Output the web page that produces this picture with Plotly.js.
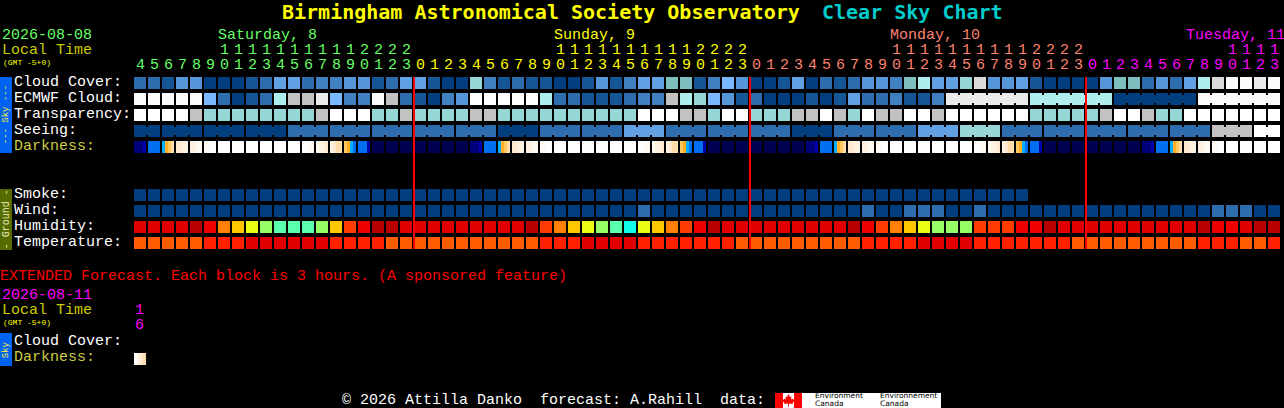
<!DOCTYPE html>
<html>
<head>
<meta charset="utf-8">
<script src="https://cdn.plot.ly/plotly-3.0.1.min.js"></script>
<style>
  html, body { margin: 0; padding: 0; background: #000; }
  #chart { width: 1284px; height: 408px; }
</style>
</head>
<body>
<div id="chart"></div>
<script>
// hours along the top, one per block
const hours = [4,5,6,7,8,9,10,11,12,13,14,15,16,17,18,19,20,21,22,23,
  0,1,2,3,4,5,6,7,8,9,10,11,12,13,14,15,16,17,18,19,20,21,22,23,
  0,1,2,3,4,5,6,7,8,9,10,11,12,13,14,15,16,17,18,19,20,21,22,23,
  0,1,2,3,4,5,6,7,8,9,10,11,12,13];
const midnights = [20, 44, 68];

// colour tables, the row values below index into them
const skyColors = ["#003e7e","#155796","#2d6cad","#4080c0","#5596d8","#62a0e4","#7ab8ff",
  "#7dbebe","#97d6d6","#aeeeee","#c2c2c2","#dadada","#eaeaea","#fbfbfb","#ffffff"];
const humidityColors = ["#b80000","#e00000","#ee0000","#ff3c00","#ff8000","#ffc800",
  "#e9ff14","#99ff66","#5cffb0","#0fffeb"];
const tempColors = ["#ff5c00","#ff2000","#e00000"];
const darkColors = ["#000050","#00007c","#0000b0","#0050e0","#0070f0","#00b0ff","#ffb020",
  "#ffc860","#ffddaa","#ffe9cf","#fff2e3","#fffaf3","#ffffff"];

const cloudCover = [2,2,1,4,4,0,0,0,1,2,
  5,5,2,3,3,4,4,1,2,5,
  5,1,0,0,8,3,1,2,1,1,
  0,0,1,4,1,3,5,5,7,7,
  1,3,6,4,0,0,1,5,0,2,
  1,2,4,4,3,7,9,5,5,8,
  11,4,4,5,1,0,0,0,0,4,
  7,7,2,4,2,5,9,11,13,13,
  12,13];
const ecmwfCloud = [13,13,13,13,13,6,2,0,1,2,
  9,10,10,12,6,3,3,13,10,2,
  1,0,3,4,14,14,14,14,14,9,
  2,2,1,1,1,2,3,3,10,9,
  8,6,4,1,2,0,0,0,1,0,
  1,5,2,2,3,1,1,3,12,12,
  12,12,12,12,9,9,9,9,9,9,
  0,0,0,0,0,0,13,13,13,13,
  13,13];
const transparency = [14,14,14,14,10,8,8,8,8,8,
  8,8,8,10,14,14,14,8,8,10,
  8,8,8,8,10,10,8,8,8,8,
  8,8,8,8,8,8,14,14,14,10,
  10,8,14,14,8,8,8,10,10,14,
  10,8,14,10,10,14,14,10,14,14,
  14,14,14,14,8,8,8,8,8,10,
  14,14,10,8,8,14,14,14,14,14,
  14,14];
const seeing = [0,0,0,0,0,0,0,0,0,0,
  0,2,2,2,2,2,2,2,2,2,
  2,2,2,2,2,2,0,0,0,2,
  2,2,2,2,2,5,5,5,2,2,
  2,2,2,2,2,2,2,0,0,0,
  2,2,2,2,2,2,5,5,5,8,
  8,8,2,2,2,2,2,2,2,2,
  2,2,2,2,2,2,2,10,10,10,
  14,14];
const smoke = [0,0,0,0,0,0,0,0,0,0,
  0,0,0,0,0,0,0,0,0,0,
  0,0,0,0,0,0,0,0,0,0,
  0,0,0,0,0,0,0,0,0,0,
  0,0,0,0,0,0,0,0,0,0,
  0,0,0,0,0,0,0,0,0,0,
  0,0,0,0];
const wind = [0,0,0,0,0,0,0,0,0,0,
  0,0,0,0,0,0,0,0,0,0,
  0,0,0,0,0,0,0,0,0,0,
  0,0,0,0,0,0,2,0,0,0,
  0,0,0,0,0,0,0,0,0,0,
  0,0,2,0,0,2,2,2,0,0,
  2,0,0,0,0,0,0,0,0,0,
  0,0,0,0,0,0,0,2,2,2,
  0,0];
const humidity = [1,1,1,1,0,2,4,5,6,7,
  8,8,8,7,5,3,2,0,0,1,
  1,1,1,1,1,1,1,1,0,3,
  4,5,6,7,8,9,6,5,4,3,
  2,0,1,1,1,1,1,1,1,1,
  1,0,2,3,4,5,6,7,7,7,
  3,3,3,2,2,0,1,1,1,1,
  1,1,1,1,1,1,0,2,2,1,
  0,0];
const temperature = [0,0,0,0,0,1,1,1,2,2,
  2,2,2,2,1,1,1,1,0,0,
  0,0,0,0,0,0,0,0,0,1,
  1,1,2,2,2,2,1,1,1,1,
  1,1,1,0,0,0,0,0,0,0,
  0,0,1,1,1,1,2,2,2,2,
  1,1,1,1,1,1,1,0,0,0,
  0,0,0,0,0,0,1,1,1,0,
  0,1];

// darkness shades over inside a block, a plain number is a flat block
const darkness = [[1,1,1,2],4,[5,6,7,8],[9,9,10,10],[10,10,11,11],[11,11,12,12],12,12,12,12,
  12,12,[12,12,11,11],[11,10,10,9],[10,9,8,8],[7,6,5,4],[4,4,4,2],0,0,0,
  0,0,0,0,[1,1,1,2],4,[5,6,7,8],[9,9,10,10],[10,10,11,11],[11,11,12,12],
  12,12,12,12,12,12,[12,12,11,11],[11,10,10,9],[10,9,8,8],[7,6,5,4],
  [4,4,4,2],0,0,0,0,0,0,0,[1,1,1,2],4,
  [5,6,7,8],[9,9,10,10],[10,10,11,11],[11,11,12,12],12,12,12,12,12,12,
  [12,12,11,11],[11,10,10,9],[10,9,8,8],[7,6,5,4],[4,4,4,2],0,0,0,0,0,
  0,0,[1,1,1,2],4,[5,6,7,8],[9,9,10,10],[10,10,11,11],[11,11,12,12],12,12,
  12,12];
const extendedDarkness = [[12,10,9,8]];

// blocks that the source prints as one joined run
const seeingRuns = [[0,1],[2,4],[5,7],[8,10],[11,13],[14,16],[17,19],[20,22],[23,25],[26,28],
  [29,31],[32,34],[35,37],[38,40],[41,43],[44,46],[47,49],[50,52],[53,55],[56,58],[59,61],
  [62,64],[65,67],[68,70],[71,73],[74,76],[77,79],[80,81]];
const ecmwfRuns = [[58,63],[64,69],[70,75],[76,81]];

const W = 1284, H = 408;
const MONO = "'Liberation Mono', monospace";
const TITLE_FONT = "'DejaVu Sans Mono', monospace";
const SANS = "'DejaVu Sans', sans-serif";
const GREEN = "#66ff66", YELLOW = "#ffff00", SALMON = "#ff8070", MAGENTA = "#ff00ff";
const GOLD = "#cccc00", DARKLABEL = "#cccc44";

const px = (x) => x / W;
const py = (y) => 1 - y / H;

function scaleOf(colors) {
  return colors.map((c, i) => [i / (colors.length - 1), c]);
}

function rowTrace(values, row, colors) {
  return {
    type: "heatmap",
    x: values.map((v, i) => i),
    y: [row],
    z: [values],
    xgap: 2,
    ygap: 4,
    zmin: 0,
    zmax: colors.length - 1,
    colorscale: scaleOf(colors),
    showscale: false,
    hoverinfo: "skip",
  };
}

// darkness has shading inside a block so it gets its own bins
function shadedTrace(blocks, row) {
  const edges = [];
  const zRow = [];
  blocks.forEach((b, i) => {
    const parts = Array.isArray(b) ? b : [b, b, b, b];
    parts.forEach((p, k) => {
      edges.push(i - 6 / 14 + (k * 3) / 14);
      zRow.push(p);
    });
    edges.push(i + 6 / 14);
    zRow.push(null);
  });
  edges.push(blocks.length - 1 + 8 / 14);
  return {
    type: "heatmap",
    x: edges,
    y: [row],
    z: [zRow],
    ygap: 4,
    zmin: 0,
    zmax: darkColors.length - 1,
    colorscale: scaleOf(darkColors),
    showscale: false,
    hoverinfo: "skip",
  };
}

function runTraces(values, runs, row) {
  return runs.filter((r) => r[1] > r[0]).map((r) => {
    const xs = [];
    const ys = [];
    for (let i = r[0]; i < r[1]; i++) {
      xs.push(i + 6 / 14, i + 8 / 14, null);
      ys.push(row, row, null);
    }
    return {
      type: "scatter",
      mode: "lines",
      x: xs,
      y: ys,
      line: { color: skyColors[values[r[0]]], width: 8 },
      hoverinfo: "skip",
    };
  });
}

const data = [
  rowTrace(cloudCover, 0, skyColors),
  rowTrace(ecmwfCloud, 1, skyColors),
  rowTrace(transparency, 2, skyColors),
  rowTrace(seeing, 3, skyColors),
  shadedTrace(darkness, 4),
  rowTrace(smoke, 7, skyColors),
  rowTrace(wind, 8, skyColors),
  rowTrace(humidity, 9, humidityColors),
  rowTrace(temperature, 10, tempColors),
  shadedTrace(extendedDarkness, 17.25),
  ...runTraces(ecmwfCloud, ecmwfRuns, 1),
  ...runTraces(seeing, seeingRuns, 3),
];

function label(text, x, y, color, size, extra) {
  return Object.assign({
    text: text,
    xref: "paper",
    yref: "paper",
    x: px(x - 1),
    y: py(y + 0.3),
    xanchor: "left",
    yanchor: "middle",
    showarrow: false,
    borderpad: 0,
    font: { family: MONO, size: size || 15, color: color },
  }, extra || {});
}

function small(text, x, y) {
  return label(text, x, y, "#000000", 7.5, { font: { family: SANS, size: 7.5, color: "#000000" } });
}

function dayColor(i) {
  if (i < midnights[0]) return GREEN;
  if (i < midnights[1]) return YELLOW;
  if (i < midnights[2]) return SALMON;
  return MAGENTA;
}

const boldTitle = { family: TITLE_FONT, size: 20 };
const annotations = [
  label("<b>Birmingham Astronomical Society Observatory</b>", 282, 12, "#ffff00", 20, { font: Object.assign({ color: "#ffff00" }, boldTitle) }),
  label("<b>Clear Sky Chart</b>", 822, 12, "#00cccc", 20, { font: Object.assign({ color: "#00cccc" }, boldTitle) }),
  label("2026-08-08", 2, 35, GREEN),
  label("Local Time", 2, 50, GOLD),
  label("(GMT -5+0)", 3, 62, YELLOW, 8),
  label("Saturday, 8", 218, 35, GREEN),
  label("Sunday, 9", 554, 35, YELLOW),
  label("Monday, 10", 890, 35, SALMON),
  label("Tuesday, 11", 1186, 35, MAGENTA),
  label("Cloud Cover:", 14, 82, "#ffffff"),
  label("ECMWF Cloud:", 14, 98, "#ffffff"),
  label("Transparency:", 14, 114, "#ffffff"),
  label("Seeing:", 14, 130, "#ffffff"),
  label("Darkness:", 14, 146, DARKLABEL),
  label("Smoke:", 14, 194, "#ffffff"),
  label("Wind:", 14, 210, "#ffffff"),
  label("Humidity:", 14, 226, "#ffffff"),
  label("Temperature:", 14, 242, "#ffffff"),
  label("EXTENDED Forecast. Each block is 3 hours. (A sponsored feature)", 0, 276, "#ff0000"),
  label("2026-08-11", 2, 295, MAGENTA),
  label("Local Time", 2, 310, GOLD),
  label("(GMT -5+0)", 3, 322, YELLOW, 8),
  label("1", 135, 310, MAGENTA),
  label("6", 135, 325, MAGENTA),
  label("Cloud Cover:", 14, 341, "#ffffff"),
  label("Darkness:", 14, 357, DARKLABEL),
  label("\u00a9 2026 Attilla Danko\u00a0\u00a0forecast: A.Rahill\u00a0\u00a0data:", 342, 400, "#ffffff"),
  label("--- Sky ---", 7, 115, "#ffee44", 9, { textangle: -90, xanchor: "center" }),
  label("- Ground -", 7, 219, "#eeeebb", 10, { textangle: -90, xanchor: "center" }),
  label("Sky", 7, 349, "#ffee44", 9, { textangle: -90, xanchor: "center" }),
  small("Environment", 815, 395.5),
  small("Canada", 815, 403.5),
  small("Environnement", 880, 395.5),
  small("Canada", 880, 403.5),
];

hours.forEach((h, i) => {
  const common = { xref: "x", yref: "paper", xanchor: "center", yanchor: "middle", showarrow: false, borderpad: 0 };
  annotations.push(Object.assign({
    x: i, y: py(65), text: String(h % 10),
    font: { family: MONO, size: 15, color: dayColor(i) },
  }, common));
  if (h >= 10) {
    annotations.push(Object.assign({
      x: i, y: py(50), text: String(Math.floor(h / 10)),
      font: { family: MONO, size: 15, color: dayColor(i) },
    }, common));
  }
});

function rect(x0, y0, x1, y1, color) {
  return {
    type: "rect", xref: "paper", yref: "paper", layer: "below",
    x0: px(x0), x1: px(x1), y0: py(y0), y1: py(y1),
    fillcolor: color, line: { width: 0 },
  };
}

// maple leaf on the flag, in page pixels
const leaf = [[788.5,394],[790,397],[791.5,396.5],[791,399.5],[793,398.5],[793.5,400],[795,400.5],
  [792.5,403],[793,404],[789,403.5],[789,406.5],[788,406.5],[788,403.5],[784,404],[784.5,403],
  [782,400.5],[783.5,400],[784,398.5],[786,399.5],[785.5,396.5],[787,397]];
const leafPath = "M" + leaf.map((p) => px(p[0]) + "," + py(p[1])).join("L") + "Z";

const shapes = [
  rect(0, 77, 12, 153, "#0062f0"),
  rect(0, 189, 12, 250, "#556b00"),
  rect(0, 333, 12, 366, "#0062f0"),
  rect(775, 393, 941, 408, "#ffffff"),
  rect(775, 393, 783, 408, "#ff0000"),
  rect(794, 393, 802, 408, "#ff0000"),
  { type: "path", xref: "paper", yref: "paper", path: leafPath, fillcolor: "#ff0000", line: { width: 0 } },
];

midnights.forEach((c) => {
  shapes.push({
    type: "line", xref: "x", yref: "paper",
    x0: c - 6 / 14, x1: c - 6 / 14, y0: py(77), y1: py(249),
    line: { color: "#ff0000", width: 2 },
  });
});

const layout = {
  width: W,
  height: H,
  margin: { t: 0, b: 0, l: 0, r: 0 },
  paper_bgcolor: "#000000",
  plot_bgcolor: "#000000",
  showlegend: false,
  // one block is 14px, the first block is centered at 140px
  xaxis: { range: [-10, (W - 140) / 14], visible: false, fixedrange: true },
  // one row is 16px, the first row is centered at 83px
  yaxis: { range: [(H - 83) / 16, -83 / 16], visible: false, fixedrange: true },
  annotations: annotations,
  shapes: shapes,
};

Plotly.newPlot("chart", data, layout, { displayModeBar: false, staticPlot: true });
</script>
</body>
</html>
